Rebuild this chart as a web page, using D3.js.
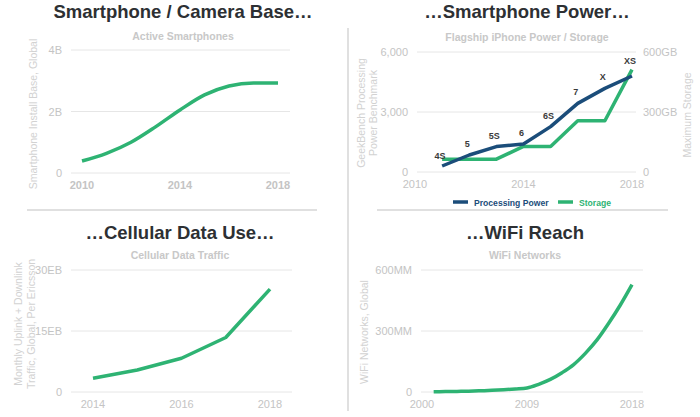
<!DOCTYPE html>
<html><head><meta charset="utf-8">
<script src="https://cdn.jsdelivr.net/npm/d3@7"></script>
<style>body{margin:0;background:#fff}svg{display:block;font-family:"Liberation Sans",Arial,sans-serif}</style>
</head><body><svg id="c" width="700" height="417"></svg>
<script>
// Data
const smartYears = [2010,2011,2012,2013,2014,2015,2016,2017,2018];
const smartBase = [0.39,0.64,1.0,1.5,2.05,2.54,2.83,2.93,2.93]; // billions

const iphoneYears = [2011,2012,2013,2014,2015,2016,2017,2018];
const iphoneModels = ["4S","5","5S","6","6S","7","X","XS"];
const iphonePower = [300,850,1270,1400,2270,3430,4180,4800];
const iphoneStorage = [64,64,64,128,128,256,256,512];

const cellYears = [2014,2015,2016,2017,2018];
const cellTraffic = [3.4,5.4,8.3,13.4,25.3]; // EB

const wifiYears = [2001,2002,2003,2004,2005,2006,2007,2008,2009,2010,2011,2012,2013,2014,2015,2016,2017,2018];
const wifiNetworks = [1,2,3,4,6,8,11,15,20,38,62,95,135,190,256,338,428,528]; // MM

const titles = ["Smartphone / Camera Base…","…Smartphone Power…","…Cellular Data Use…","…WiFi Reach"];
const subtitles = ["Active Smartphones","Flagship iPhone Power / Storage","Cellular Data Traffic","WiFi Networks"];

const GREEN = "#2eb373", BLUE = "#1b4d7a", GRID = "#e6e6e6", TICK = "#c4c4c4", TITLE = "#2d3033";
const svg = d3.select("#c");

// separators
svg.append("line").attr("x1",348).attr("x2",348).attr("y1",28).attr("y2",411).attr("stroke","#d6d6d6").attr("stroke-width",1.5);
svg.append("line").attr("x1",27).attr("x2",317).attr("y1",210).attr("y2",210).attr("stroke","#d6d6d6").attr("stroke-width",1.5);
svg.append("line").attr("x1",377).attr("x2",668).attr("y1",210).attr("y2",210).attr("stroke","#d6d6d6").attr("stroke-width",1.5);

function header(cx, ty, sy, t, s){
  svg.append("text").attr("x",cx).attr("y",ty).attr("text-anchor","middle").attr("font-size",18.5).attr("font-weight","bold").attr("fill",TITLE).text(t);
  svg.append("text").attr("x",cx).attr("y",sy).attr("text-anchor","middle").attr("font-size",10.5).attr("font-weight","bold").attr("fill","#c8c8c8").text(s);
}
function grid(y, ticks, x0, x1){
  ticks.forEach(v=>{
    svg.append("line").attr("x1",x0).attr("x2",x1).attr("y1",y(v)).attr("y2",y(v)).attr("stroke",GRID).attr("stroke-width",1);
  });
}
function yLabels(y, ticks, fmt, lx, anchor){
  ticks.forEach(v=>{
    svg.append("text").attr("x",lx).attr("y",y(v)+4).attr("text-anchor",anchor).attr("font-size",11).attr("fill",TICK).text(fmt(v));
  });
}
function xLabels(x, ticks, ly, bold){
  ticks.forEach(v=>{
    svg.append("text").attr("x",x(v)).attr("y",ly).attr("text-anchor","middle").attr("font-size",11).attr("font-weight",bold?"bold":"normal").attr("fill",TICK).text(v);
  });
}
function yTitle(lines, cx, cy, gap){
  const n = lines.length;
  lines.forEach((l,i)=>{
    const xx = cx + (i-(n-1)/2)*gap;
    svg.append("text").attr("transform",`translate(${xx},${cy}) rotate(-90)`).attr("text-anchor","middle").attr("dominant-baseline","central").attr("font-size",10.5).attr("fill","#d2d2d2").text(l);
  });
}
function drawLine(xs, ys, x, y, color, curve){
  const line = d3.line().x((d,i)=>x(xs[i])).y(d=>y(d)).curve(curve);
  svg.append("path").datum(ys).attr("d",line).attr("fill","none").attr("stroke",color).attr("stroke-width",3.5).attr("stroke-linejoin","round").attr("stroke-linecap","butt");
}

// Panel 1
{
  header(183, 18, 40, titles[0], subtitles[0]);
  const x = d3.scaleLinear().domain([2010,2018]).range([82,278]);
  const y = d3.scaleLinear().domain([0,4]).range([173,50]);
  grid(y,[0,2,4],71,290);
  yLabels(y,[0,2,4],v=>v===0?"0":v+"B",62,"end");
  xLabels(x,[2010,2014,2018],189,true);
  yTitle(["Smartphone Install Base, Global"],33,114,0);
  drawLine(smartYears, smartBase, x, y, GREEN, d3.curveMonotoneX);
}
// Panel 2
{
  header(527, 18, 41, titles[1], subtitles[1]);
  const x = d3.scaleLinear().domain([2010,2018]).range([415,632]);
  const y = d3.scaleLinear().domain([0,6000]).range([172,52]);
  const y2 = d3.scaleLinear().domain([0,600]).range([172,52]);
  grid(y,[0,3000,6000],417,636);
  yLabels(y,[0,3000,6000],d3.format(","),408,"end");
  yLabels(y2,[0,300,600],v=>v===0?"0":v+"GB",643,"start");
  xLabels(x,[2010,2014,2018],188,false);
  yTitle(["GeekBench Processing","Power Benchmark"],367,113,12);
  yTitle(["Maximum Storage"],687,115,0);
  drawLine(iphoneYears, iphoneStorage, x, y2, GREEN, d3.curveLinear);
  drawLine(iphoneYears, iphonePower, x, y, BLUE, d3.curveLinear);
  iphoneModels.forEach((m,i)=>{
    svg.append("text").attr("x",x(iphoneYears[i])-2).attr("y",y(iphonePower[i])-(i===7?12:i===0?7:8)).attr("text-anchor","middle").attr("font-size",9).attr("font-weight","bold").attr("fill","#3a3a3a").text(m);
  });
  // legend
  const lg = [{t:"Processing Power",c:BLUE,x:453},{t:"Storage",c:GREEN,x:558}];
  lg.forEach(d=>{
    svg.append("line").attr("x1",d.x).attr("x2",d.x+15).attr("y1",202).attr("y2",202).attr("stroke",d.c).attr("stroke-width",3.5);
    svg.append("text").attr("x",d.x+21).attr("y",205.5).attr("font-size",8.6).attr("font-weight","bold").attr("fill",d.c).text(d.t);
  });
}
// Panel 3
{
  header(180, 239, 259, titles[2], subtitles[2]);
  const x = d3.scaleLinear().domain([2014,2018]).range([93,270]);
  const y = d3.scaleLinear().domain([0,30]).range([392,270]);
  grid(y,[0,15,30],71,292);
  yLabels(y,[0,15,30],v=>v===0?"0":v+"EB",62,"end");
  xLabels(x,[2014,2016,2018],408,false);
  yTitle(["Monthly Uplink + Downlink","Traffic, Global, Per Ericsson"],24.5,324,12.5);
  drawLine(cellYears, cellTraffic, x, y, GREEN, d3.curveLinear);
}
// Panel 4
{
  header(525, 239, 259, titles[3], subtitles[3]);
  const x = d3.scaleLinear().domain([2000,2018]).range([422,632]);
  const y = d3.scaleLinear().domain([0,600]).range([392,270]);
  grid(y,[0,300,600],421,643);
  yLabels(y,[0,300,600],v=>v===0?"0":v+"MM",412,"end");
  xLabels(x,[2000,2009,2018],408,false);
  yTitle(["WiFi Networks, Global"],364,332,0);
  drawLine(wifiYears, wifiNetworks, x, y, GREEN, d3.curveMonotoneX);
}
</script></body></html>
